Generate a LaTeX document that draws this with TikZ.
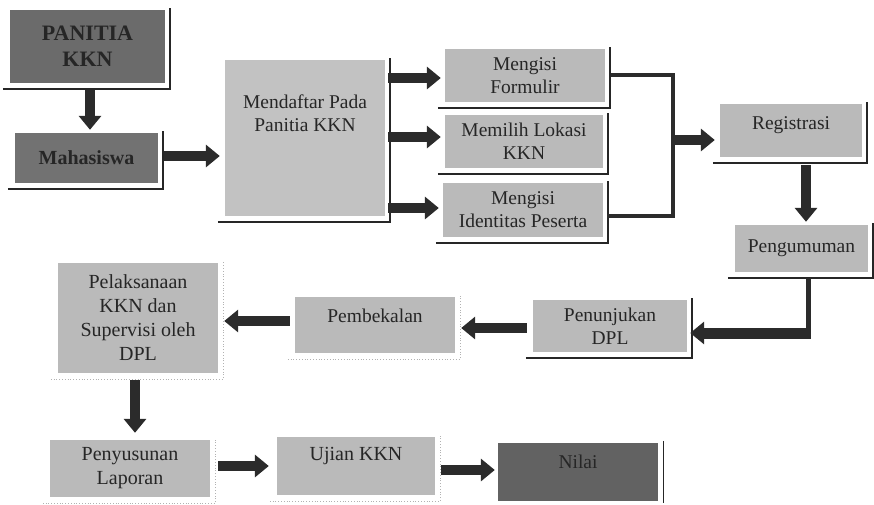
\documentclass[tikz,border=0pt]{standalone}
\usepackage{fontspec}
\setmainfont{Liberation Serif}
\usetikzlibrary{arrows.meta}
\definecolor{ink}{HTML}{262626}
\definecolor{darkfill}{HTML}{6B6B6B}
\definecolor{lightfill}{HTML}{BABABA}
\definecolor{mendfill}{HTML}{C2C2C2}
\definecolor{arrowc}{HTML}{2B2B2B}
\tikzset{
  box/.style={rectangle, draw=none, fill=lightfill, inner sep=0pt},
  darkbox/.style={box, fill=darkfill},
  txt/.style={align=center, text=ink, font=\fontsize{19.5}{23}\selectfont},
  btxt/.style={align=center, text=ink, font=\fontsize{20}{24}\selectfont\bfseries},
  blockarrow/.style={draw=arrowc, line width=10pt, -{Triangle[length=14pt,width=22pt]}},
  shline/.style={draw=ink, line width=1.6pt},
  faint/.style={draw=gray!60, line width=0.8pt, dotted},
  bracket/.style={draw=arrowc, line width=3.5pt},
}
\newcommand{\shd}[2][shline]{\draw[#1] ([xshift=-7pt,yshift=-6pt]#2.south west) -- ([xshift=5pt,yshift=-6pt]#2.south east) -- ([xshift=5pt,yshift=2pt]#2.north east);}
\begin{document}
\begin{tikzpicture}[x=1pt,y=-1pt]
\useasboundingbox (0,0) rectangle (874,504);
% boxes
\node[darkbox, minimum width=155pt, minimum height=73pt] (pan) at (87.5,46.5) {};
\node[btxt, font=\fontsize{22}{26}\selectfont\bfseries] (pant) at (pan) {PANITIA\\KKN};
\node[darkbox, fill=darkfill!95!white, minimum width=143pt, minimum height=50pt] (mah) at (86.5,158) {};
\node[btxt] (maht) at (mah) {Mahasiswa};
\node[box, fill=mendfill, minimum width=160pt, minimum height=156pt] (mend) at (305,138) {};
\node[txt] (mendt) at (305,113) {Mendaftar Pada\\Panitia KKN};
\node[box, minimum width=160pt, minimum height=53pt] (form) at (525,75.5) {};
\node[txt] (formt) at (form) {Mengisi\\Formulir};
\node[box, minimum width=158pt, minimum height=53pt] (lok) at (524,141.5) {};
\node[txt] (lokt) at (lok) {Memilih Lokasi\\KKN};
\node[box, minimum width=160pt, minimum height=54pt] (ident) at (523,210) {};
\node[txt] (identt) at (ident) {Mengisi\\Identitas Peserta};
\node[box, minimum width=142pt, minimum height=53pt] (reg) at (791,130.5) {};
\node[txt] (regt) at (791,125) {Registrasi};
\node[box, minimum width=133pt, minimum height=47pt] (peng) at (801.5,248.5) {};
\node[txt] (pengt) at (peng) {Pengumuman};
\node[box, minimum width=154pt, minimum height=52pt] (penu) at (610,326) {};
\node[txt] (penut) at (penu) {Penunjukan\\DPL};
\node[box, minimum width=160pt, minimum height=56pt] (pemb) at (375,325) {};
\node[txt] (pembt) at (375,316) {Pembekalan};
\node[box, minimum width=160pt, minimum height=110pt] (pel) at (138,318) {};
\node[txt, font=\fontsize{20}{24}\selectfont] (pelt) at (pel) {Pelaksanaan\\KKN dan\\Supervisi oleh\\DPL};
\node[box, minimum width=160pt, minimum height=57pt] (peny) at (130,468.5) {};
\node[txt, font=\fontsize{20}{24}\selectfont] (penyt) at (peny) {Penyusunan\\Laporan};
\node[box, minimum width=158pt, minimum height=58pt] (uji) at (356,466) {};
\node[txt, font=\fontsize{20}{24}\selectfont] (ujit) at (356,456) {Ujian KKN};
\node[darkbox, fill=darkfill!92!black, minimum width=160pt, minimum height=58pt] (nil) at (578,472) {};
\node[txt] (nilt) at (578,462) {Nilai};
% shadows / frames
\shd{pan}
\shd{mah}
\shd{mend}
\shd{form}
\shd{lok}
\shd{ident}
\shd{reg}
\shd{peng}
\shd{penu}
\shd[faint]{pemb}
\shd[faint]{pel}
\shd[faint]{peny}
\shd[faint]{uji}
\draw[draw=ink, line width=0.8pt] ([xshift=5pt,yshift=2pt]nil.north east) -- ([xshift=5pt,yshift=-2pt]nil.south east);
% arrows
\draw[blockarrow] ([yshift=-7pt]pan.south -| 90,0) -- ([yshift=3pt]mah.north -| 90,0);
\draw[blockarrow] ([xshift=6pt]mah.east |- 0,156) -- ([xshift=-5pt]mend.west |- 0,156);
\draw[blockarrow] ([xshift=3pt]mend.east |- 0,78) -- ([xshift=-4pt]form.west |- 0,78);
\draw[blockarrow] ([xshift=3pt]mend.east |- 0,137) -- ([xshift=-4pt]lok.west |- 0,137);
\draw[blockarrow] ([xshift=3pt]mend.east |- 0,208) -- ([xshift=-4pt]ident.west |- 0,208);
\coordinate (bt) at (673,75);
\coordinate (bb) at (673,216);
\coordinate (bm) at (673,140);
\draw[bracket] ([xshift=6pt]form.east |- bt) -- (bt) -- (bb) -- ([xshift=4pt]ident.east |- bb);
\draw[blockarrow] ([xshift=-2pt]bm) -- ([xshift=-5pt]reg.west |- bm);
\draw[blockarrow] ([yshift=-8pt]reg.south -| 806,0) -- ([yshift=3pt]peng.north -| 806,0);
\coordinate (corner) at (808,333);
\draw[draw=arrowc, line width=5pt] ([yshift=-6pt]peng.south -| corner) -- ([yshift=-3pt]corner);
\draw[blockarrow, line width=11pt] ([xshift=2.5pt]corner) -- ([xshift=3pt]penu.east |- corner);
\draw[blockarrow] ([xshift=-6pt]penu.west |- 0,328) -- ([xshift=6pt]pemb.east |- 0,328);
\draw[blockarrow] ([xshift=-5pt]pemb.west |- 0,321) -- ([xshift=6pt]pel.east |- 0,321);
\draw[blockarrow] ([yshift=-7pt]pel.south -| 135,0) -- ([yshift=7pt]peny.north -| 135,0);
\draw[blockarrow] ([xshift=8pt]peny.east |- 0,466) -- ([xshift=-8pt]uji.west |- 0,466);
\draw[blockarrow] ([xshift=6pt]uji.east |- 0,470) -- ([xshift=-3pt]nil.west |- 0,470);
\end{tikzpicture}
\end{document}
